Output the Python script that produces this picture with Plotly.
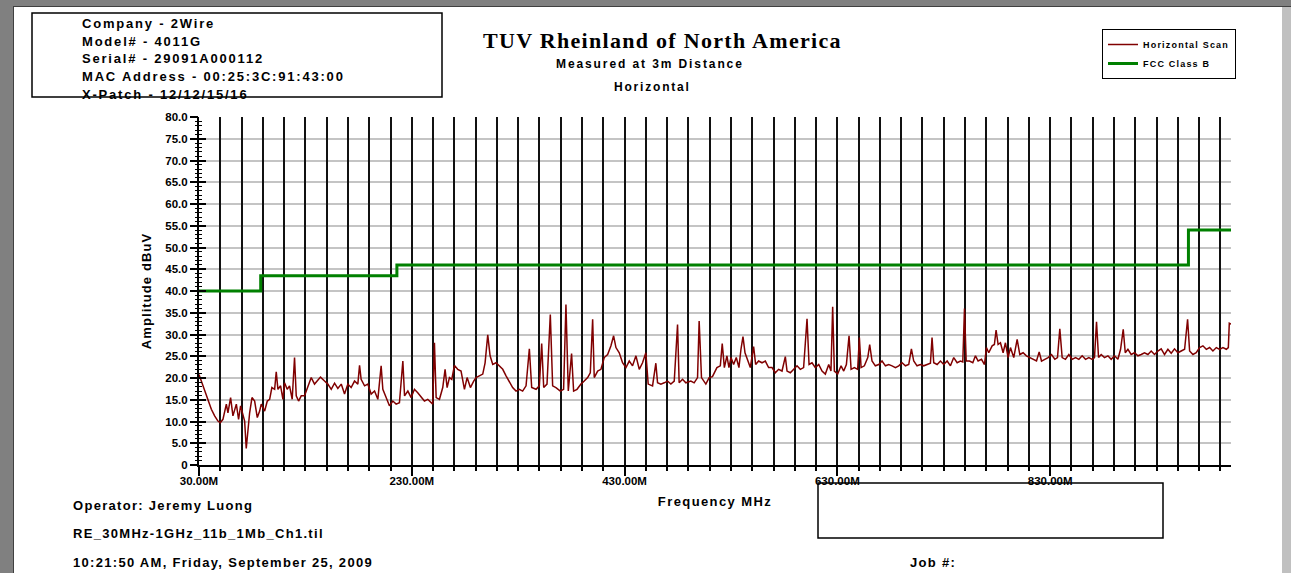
import plotly.graph_objects as go

# ---------------------------------------------------------------------------
# Radiated emissions sweep, 30 MHz - 1 GHz, horizontal antenna polarisation
# ---------------------------------------------------------------------------
freq_mhz = [
    30.0, 38.5, 41.6, 44.7, 47.8, 50.0, 52.5, 55.7, 57.2, 59.7, 61.9, 65.1, 67.2, 69.1,
    71.3, 72.9, 74.4, 76.0, 77.6, 79.8, 82.3, 84.8, 87.0, 88.5, 91.7, 94.2, 96.4, 98.5,
    101.1, 102.6, 104.2, 106.7, 108.9, 110.4, 112.9, 115.1, 117.6, 119.8, 121.4, 123.6,
    126.1, 129.2, 132.4, 135.5, 138.6, 141.7, 144.2, 148.0, 151.1, 154.3, 157.4, 160.5,
    163.7, 166.8, 169.9, 173.0, 176.2, 179.3, 180.9, 182.4, 185.6, 188.7, 191.8, 195.0,
    198.1, 201.2, 202.8, 205.9, 209.0, 212.2, 215.3, 218.4, 221.6, 223.2, 226.3, 229.4,
    232.5, 235.6, 238.8, 241.9, 245.0, 248.2, 249.7, 251.3, 252.9, 256.0, 259.1, 261.3,
    263.2, 265.4, 267.6, 270.1, 273.2, 276.3, 279.5, 282.0, 285.1, 288.2, 290.4, 293.5,
    296.7, 298.9, 301.4, 303.6, 306.1, 309.2, 312.3, 315.5, 318.6, 321.7, 324.8, 328.0,
    331.1, 334.2, 337.4, 340.5, 342.7, 346.8, 349.9, 352.1, 354.0, 357.1, 360.2, 362.4,
    365.5, 369.6, 372.7, 374.9, 377.1, 380.2, 382.1, 385.3, 389.0, 392.1, 395.3, 397.8,
    400.0, 401.5, 404.7, 407.8, 410.9, 414.1, 417.2, 419.7, 421.9, 425.0, 428.1, 431.3,
    434.4, 437.5, 440.7, 443.8, 446.9, 450.0, 452.2, 456.3, 459.4, 461.0, 464.1, 467.3,
    470.4, 473.5, 476.7, 479.8, 481.3, 484.5, 487.6, 492.3, 495.4, 498.6, 500.1, 502.3,
    506.4, 509.5, 512.6, 516.8, 520.0, 521.8, 523.8, 526.2, 528.1, 530.0, 532.5, 535.0,
    537.5, 539.4, 541.3, 543.2, 545.7, 548.2, 551.3, 553.2, 556.0, 559.2, 562.3, 565.4,
    568.6, 571.7, 574.8, 578.0, 581.1, 582.7, 585.8, 588.9, 592.1, 595.2, 598.3, 601.5,
    603.4, 606.2, 609.3, 612.5, 615.6, 618.7, 621.9, 624.0, 625.6, 627.2, 630.3, 633.5,
    636.0, 638.5, 641.0, 642.9, 646.0, 649.1, 650.7, 652.3, 655.4, 658.6, 660.4, 662.6,
    665.7, 668.9, 672.0, 675.2, 678.3, 681.4, 684.6, 687.7, 690.8, 694.0, 697.1, 699.6,
    701.8, 704.9, 708.1, 711.2, 714.3, 717.5, 719.0, 720.6, 723.8, 726.9, 730.0, 733.2,
    736.3, 739.4, 742.6, 745.7, 747.9, 749.5, 751.1, 754.2, 757.3, 759.8, 762.3, 765.5,
    768.3, 770.1, 772.3, 775.5, 777.6, 779.2, 781.1, 783.3, 785.8, 788.0, 790.5, 792.7,
    795.8, 799.0, 801.5, 804.6, 807.7, 810.9, 814.0, 817.2, 819.7, 821.9, 825.0, 828.1,
    831.3, 834.4, 836.9, 839.1, 841.3, 844.4, 847.6, 850.7, 853.9, 857.0, 860.1, 863.3,
    866.4, 869.5, 871.7, 873.6, 875.5, 878.0, 881.1, 884.3, 887.4, 890.5, 893.7, 896.2,
    898.7, 900.6, 903.1, 906.2, 909.3, 912.5, 915.6, 918.7, 921.9, 925.0, 928.1, 931.3,
    934.4, 937.5, 940.7, 943.8, 946.9, 950.1, 953.2, 956.4, 959.2, 961.1, 964.2, 967.3,
    970.5, 973.6, 976.8, 979.9, 983.0, 986.2, 989.3, 992.4, 995.6, 997.5, 998.4, 1000.0,
]
scan_dbuv = [
    20.8, 15.1, 12.8, 11.3, 10.1, 9.7, 10.5, 14.0, 12.0, 15.5, 11.3, 14.0, 10.5, 13.6,
    11.7, 10.1, 3.8, 8.2, 12.0, 15.5, 14.7, 10.9, 12.4, 14.0, 12.4, 14.7, 15.1, 17.8,
    17.4, 21.4, 17.4, 18.2, 15.1, 18.9, 17.4, 18.2, 15.1, 24.7, 15.9, 14.7,
    15.9, 15.9, 18.2, 20.1, 18.6, 19.5, 20.2, 19.3, 18.6, 17.4, 18.8, 17.6,
    18.6, 16.3, 18.6, 17.8, 19.3, 18.6, 22.9, 19.7, 18.2, 18.6, 16.3, 17.0,
    15.1, 22.8, 17.4, 15.5, 13.6, 14.7, 14.0, 14.3, 23.9, 15.9, 17.0, 15.5,
    17.4, 16.6, 15.5, 14.7, 15.1, 14.3, 14.0, 28.1, 15.5, 15.1, 17.8, 22.0,
    17.8, 20.1, 19.7, 22.9, 22.0, 21.6, 17.4, 20.1, 17.8, 19.3, 20.1, 20.5,
    20.9, 23.5, 29.9, 25.1, 23.1, 23.5, 22.8, 22.0, 20.5, 19.3, 17.8, 17.0,
    17.4, 17.0, 18.2, 26.7, 17.8, 17.4, 18.2, 27.9, 17.8, 18.6, 34.6, 18.2,
    17.8, 17.0, 17.4, 36.9, 17.0, 25.6, 17.0, 17.4, 18.6, 19.3, 20.1, 21.2,
    33.5, 20.1, 21.6, 22.0, 24.7, 25.4, 27.4, 29.7, 27.0, 25.8, 23.5, 22.4,
    23.9, 22.8, 25.1, 22.0, 23.5, 25.8, 18.6, 18.2, 23.4, 18.9, 18.6, 18.9,
    19.3, 18.6, 19.3, 32.3, 18.9, 19.7, 18.9, 19.3, 18.9, 20.1, 33.1, 20.1,
    18.6, 20.1, 20.3, 22.4, 22.8, 27.9, 22.4, 25.1, 22.4, 24.7, 23.1, 24.7,
    22.4, 26.6, 29.5, 25.8, 23.9, 22.4, 27.2, 23.1, 23.9, 23.5, 23.9, 22.4,
    22.4, 21.2, 22.0, 21.6, 24.9, 21.6, 21.2, 22.0, 22.8, 22.0, 22.4, 33.6,
    23.1, 23.5, 22.4, 23.1, 21.6, 20.9, 23.1, 21.6, 36.4, 21.6, 20.9, 22.8,
    21.6, 23.1, 29.7, 22.0, 22.4, 22.0, 29.3, 22.4, 22.8, 24.7, 27.7, 23.9,
    22.8, 23.1, 23.9, 22.8, 23.1, 22.8, 22.4, 22.8, 23.5, 22.8, 23.1, 26.7,
    23.9, 22.8, 23.1, 22.8, 23.1, 23.4, 29.3, 23.5, 23.1, 23.9, 23.1, 23.9,
    22.8, 24.7, 23.5, 23.9, 23.7, 36.0, 23.9, 23.9, 23.5, 25.1, 23.9, 24.3,
    23.1, 27.0, 25.8, 27.4, 27.7, 31.0, 27.7, 28.1, 25.8, 28.1, 24.7, 27.0,
    24.7, 28.9, 25.4, 25.8, 25.1, 24.7, 24.3, 23.9, 26.0, 23.9, 24.3, 24.7,
    25.4, 24.3, 24.7, 31.3, 24.7, 24.3, 25.4, 24.3, 24.7, 24.3, 25.1, 24.3,
    24.7, 24.3, 24.7, 32.9, 24.7, 25.4, 24.7, 25.1, 24.3, 25.1, 24.3, 26.6,
    31.2, 25.8, 26.6, 25.4, 25.8, 25.1, 25.4, 25.8, 25.4, 26.2, 25.4, 26.2,
    26.7, 25.4, 26.6, 25.7, 26.7, 25.8, 26.2, 26.6, 33.5, 26.2, 25.4, 25.8,
    27.0, 27.4, 26.6, 27.0, 26.2, 27.0, 26.6, 27.0, 26.6, 27.0, 32.6, 32.4,
]

# FCC Part 15 Class B radiated limit at 3 m (step edges, MHz / dBuV)
fcc_freq = [30, 88, 216, 960, 1000]
fcc_limit = [40.0, 43.5, 46.0, 54.0, 54.0]

x_tick_vals = [30, 230, 430, 630, 830]
x_tick_text = ["30.00M", "230.00M", "430.00M", "630.00M", "830.00M"]
y_tick_vals = list(range(0, 81, 5))
y_tick_text = ["0"] + [f"{v:.1f}" for v in y_tick_vals[1:]]

info_lines = [
    "Company - 2Wire",
    "Model# - 4011G",
    "Serial# - 29091A000112",
    "MAC Address - 00:25:3C:91:43:00",
    "X-Patch - 12/12/15/16",
]

# ---------------------------------------------------------------------------
W, H = 1291, 573
PL, PR, PT, PB = 199, 1231, 117, 465          # plot area in page pixels
SANS = "Liberation Sans, Arial, sans-serif"
SERIF = "Liberation Serif, Times New Roman, serif"
F_RANGE = [30, 1000]
A_RANGE = [0, 80]


def px(x):
    return (x - PL) / (PR - PL)


def py(y):
    return (PB - y) / (PB - PT)


def spaced(text, ls):
    """Wrap text in a span with extra letter spacing (wide report lettering)."""
    return f'<span style="letter-spacing:{ls}px">{text}</span>'


fig = go.Figure()
fig.add_trace(go.Scatter(
    x=freq_mhz, y=scan_dbuv, mode="lines", name=spaced("Horizontal Scan", 1.2),
    line=dict(color="#800000", width=1.5),
))
fig.add_trace(go.Scatter(
    x=fcc_freq, y=fcc_limit, mode="lines", name=spaced("FCC Class B", 1.2),
    line=dict(color="#008000", width=3, shape="hv"),
))
# empty carriers so the auxiliary tick/grid axes get drawn
for xa, ya in (("x2", "y"), ("x", "y2"), ("x", "y3")):
    fig.add_trace(go.Scatter(x=[], y=[], xaxis=xa, yaxis=ya, showlegend=False,
                             hoverinfo="skip"))

tick_font = dict(family=SANS, size=11.5, color="black", weight="bold")
bare = dict(showticklabels=False, zeroline=False, showline=False, showgrid=False)

fig.update_layout(
    width=W, height=H,
    margin=dict(l=PL, r=W - PR, t=PT, b=H - PB, pad=0),
    paper_bgcolor="white", plot_bgcolor="white",
    showlegend=True,
    legend=dict(
        x=px(1102), y=py(29), xanchor="left", yanchor="top",
        bgcolor="white", bordercolor="black", borderwidth=1,
        font=dict(family=SANS, size=9, color="black", weight="bold"),
        itemwidth=30, tracegroupgap=0,
    ),
    xaxis=dict(
        range=F_RANGE, tickmode="array", tickvals=x_tick_vals, ticktext=x_tick_text,
        tickfont=tick_font, ticks="outside", ticklen=9, tickwidth=1.5, tickcolor="black",
        ticklabelstandoff=-5,
        showgrid=True, gridcolor="#111111", gridwidth=1.5,
        showline=True, linecolor="black", linewidth=2, zeroline=False,
        title=dict(text=spaced("Frequency MHz", 1.4), standoff=11,
                   font=dict(family=SANS, size=13, color="black", weight="bold")),
    ),
    # 20 MHz sub-divisions: black grid lines and short ticks
    xaxis2=dict(
        overlaying="x", anchor="y", side="bottom", range=F_RANGE,
        tickmode="linear", tick0=30, dtick=20, ticks="outside", ticklen=5,
        tickwidth=1.5, tickcolor="black",
        **{**bare, "showgrid": True}, gridcolor="#111111", gridwidth=1.5,
    ),
    yaxis=dict(
        range=A_RANGE, tickmode="array", tickvals=y_tick_vals, ticktext=y_tick_text,
        tickfont=tick_font, ticks="outside", ticklen=7, tickwidth=1.5, tickcolor="black",
        showgrid=True, gridcolor="#c4c4c4", gridwidth=2,
        showline=True, linecolor="black", linewidth=2, zeroline=False,
        title=dict(text=spaced("Amplitude dBuV", 1.1), standoff=11,
                   font=dict(family=SANS, size=13, color="black", weight="bold")),
    ),
    # 1 dB ladder ticks on both sides of the amplitude axis
    yaxis2=dict(
        overlaying="y", anchor="x", side="left", range=A_RANGE,
        tickmode="linear", tick0=0, dtick=5, ticks="outside", ticklen=7,
        tickwidth=1.5, tickcolor="black",
        minor=dict(tick0=0, dtick=1, ticks="outside", ticklen=3, tickwidth=1,
                   tickcolor="black", showgrid=False),
        **bare,
    ),
    yaxis3=dict(
        overlaying="y", anchor="x", side="left", range=A_RANGE,
        tickmode="linear", tick0=0, dtick=5, ticks="inside", ticklen=7,
        tickwidth=1.5, tickcolor="black",
        minor=dict(tick0=0, dtick=1, ticks="inside", ticklen=3, tickwidth=1,
                   tickcolor="black", showgrid=False),
        **bare,
    ),
)

shapes = [
    # window frame
    dict(type="rect", x0=px(0), x1=px(W), y0=py(0), y1=py(6), fillcolor="#808080",
         line=dict(width=0)),
    dict(type="line", x0=px(13), x1=px(W), y0=py(6.5), y1=py(6.5),
         line=dict(color="#404040", width=1)),
    dict(type="rect", x0=px(0), x1=px(13), y0=py(0), y1=py(H), fillcolor="#808080",
         line=dict(width=0)),
    dict(type="line", x0=px(13.5), x1=px(13.5), y0=py(6), y1=py(H),
         line=dict(color="#404040", width=1)),
    dict(type="rect", x0=px(1282), x1=px(W), y0=py(7), y1=py(H), fillcolor="#c0c0c0",
         line=dict(width=0)),
    # header info box
    dict(type="rect", x0=px(32), x1=px(442), y0=py(13), y1=py(97),
         line=dict(color="black", width=1.5)),
    # empty comment box under the axis
    dict(type="rect", x0=px(818), x1=px(1163), y0=py(483), y1=py(538),
         line=dict(color="black", width=1.5)),
]
for s in shapes:
    s.update(xref="paper", yref="paper")
fig.update_layout(shapes=shapes)


def label(text, x, y, size=13, anchor="left", family=SANS, ls=0.0):
    fig.add_annotation(
        text=spaced(text, ls) if ls else text, x=px(x), y=py(y),
        xref="paper", yref="paper", xanchor=anchor, yanchor="middle", showarrow=False,
        font=dict(family=family, size=size, color="black", weight="bold"),
    )


for i, line in enumerate(info_lines):
    label(line, 80, 23.5 + i * 17.75, size=13, ls=1.8)

label("TUV Rheinland of North America", 662, 40, size=22, anchor="center",
      family=SERIF, ls=1.3)
label("Measured at 3m Distance", 650, 64, size=12, anchor="center", ls=1.9)
label("Horizontal", 652, 87, size=12, anchor="center", ls=1.8)

label("Operator: Jeremy Luong", 71, 505.5, size=13, ls=1.3)
label("RE_30MHz-1GHz_11b_1Mb_Ch1.til", 71, 533.5, size=13, ls=1.3)
label("10:21:50 AM, Friday, September 25, 2009", 71, 562, size=13, ls=1.3)
label("Job #:", 908, 562, size=13, ls=1.3)

fig.write_html("out.html")
